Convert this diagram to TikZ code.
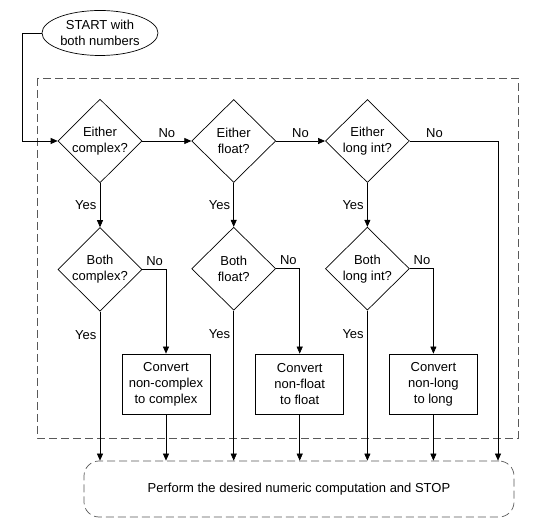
\documentclass[tikz,border=0pt]{standalone}
\usepackage{fontspec}
\setmainfont{Liberation Sans}
\usetikzlibrary{arrows.meta,shapes.geometric,positioning}

\begin{document}
\begin{tikzpicture}[
    x = 1pt, y = -1pt, % pixel grid, y runs down
    > = {Triangle[length=7pt,width=6pt]}, % arrow head style
    line width = 0.7pt, % line style
    font = \fontsize{13}{16}\selectfont,
    ]

    \tikzset{
    test/.style = {diamond, draw, aspect = 1, inner sep = 0pt,
        minimum width = 84pt, minimum height = 83pt, align = center},
    convbox/.style = {rectangle, draw, minimum width = 88pt,
        minimum height = 60pt, align = center},
    frame/.style = {dashed, dash pattern = on 8pt off 4pt, draw = black!65},
    }
    \useasboundingbox (0,0) rectangle (536,518);

    \draw[frame] (37,78) rectangle (518,438);

    \node[ellipse, draw, minimum width = 116pt, minimum height = 45pt,
        inner sep = 0pt, align = center] (start) at (100,33) {START with\\both numbers};
    \node[test] (e1) at (100,141) {Either\\complex?};
    \node[test] (e2) [right=49pt of e1] {Either\\float?};
    \node[test] (e3) [right=49pt of e2] {Either\\long int?};
    \node[test] (b1) [below=44pt of e1] {Both\\complex?};
    \node[test] (b2) [below=44pt of e2] {Both\\float?};
    \node[test] (b3) [below=44pt of e3] {Both\\long int?};
    \node[convbox] (c1) at (166,384) {Convert\\non-complex\\to complex};
    \node[convbox] (c2) [right=45pt of c1] {Convert\\non-float\\to float};
    \node[convbox] (c3) [right=45pt of c2] {Convert\\non-long\\to long};
    \node[frame, rounded corners = 15pt, minimum width = 430pt,
        minimum height = 56pt] (stop) at (299,489)
        {Perform the desired numeric computation and STOP};
    \coordinate (nox) at (498,0);

    \draw[->] (start.west) -- ++(-19,0) |- (e1.west);
    \path[->] (e1) edge node[above]{No} (e2);
    \path[->] (e2) edge node[above]{No} (e3);
    \draw[->] (e3.east) -| node[above, pos=0.14]{No} (nox |- stop.north);

    \path[->] (e1) edge node[left]{Yes} (b1);
    \path[->] (e2) edge node[left]{Yes} (b2);
    \path[->] (e3) edge node[left]{Yes} (b3);

    \draw[->] (b1.east) -| node[above, pos=0.26]{No} (c1.north);
    \draw[->] (b2.east) -| node[above, pos=0.26]{No} (c2.north);
    \draw[->] (b3.east) -| node[above, pos=0.26]{No} (c3.north);

    \draw[->] (b1.south) -- node[left, pos=0.16]{Yes} (b1.south |- stop.north);
    \draw[->] (b2.south) -- node[left, pos=0.16]{Yes} (b2.south |- stop.north);
    \draw[->] (b3.south) -- node[left, pos=0.16]{Yes} (b3.south |- stop.north);

    \draw[->] (c1) -- (c1.south |- stop.north);
    \draw[->] (c2) -- (c2.south |- stop.north);
    \draw[->] (c3) -- (c3.south |- stop.north);
\end{tikzpicture}
\end{document}
